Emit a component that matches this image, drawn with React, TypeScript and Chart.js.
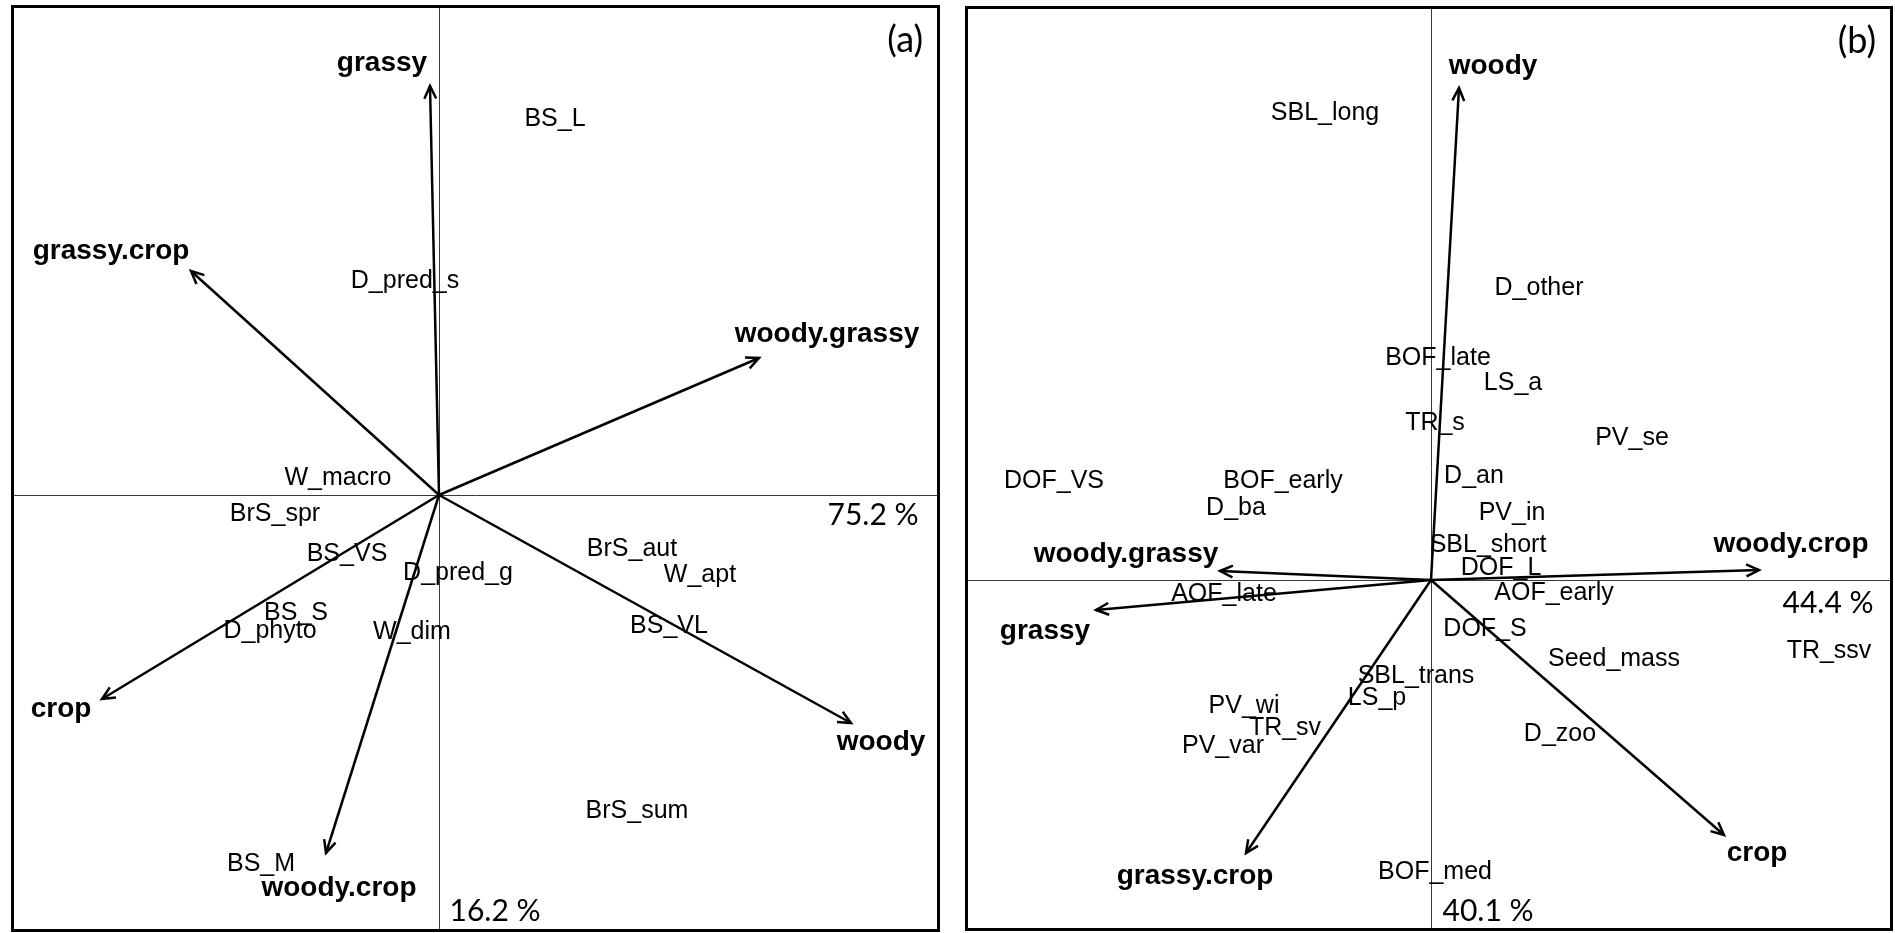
import React, { useEffect, useRef } from "react";
import { Chart, registerables } from "chart.js";
Chart.register(...registerables);

// ---------- Panel (a) ----------
const envNamesA = ["grassy", "grassy.crop", "woody.grassy", "woody", "crop", "woody.crop"];
const envXA = [-0.0225, -0.62, 0.8, 1.03, -0.8425, -0.2825];
const envYA = [1.0225, 0.56, 0.3425, -0.57, -0.51, -0.895];
const envLabelXA = [-0.1425, -0.82, 0.97, 1.105, -0.945, -0.25];
const envLabelYA = [1.06, 0.59, 0.3825, -0.6375, -0.555, -1.0025];

const traitNamesA = ["BS_L", "D_pred_s", "W_macro", "BrS_spr", "BS_VS", "D_pred_g", "BrS_aut", "W_apt", "BS_S", "D_phyto", "W_dim", "BS_VL", "BrS_sum", "BS_M"];
const traitXA = [0.29, -0.085, -0.2525, -0.41, -0.23, 0.0475, 0.4825, 0.6525, -0.3575, -0.4225, -0.0675, 0.575, 0.495, -0.445];
const traitYA = [0.9225, 0.5175, 0.025, -0.065, -0.165, -0.2125, -0.1525, -0.2175, -0.3125, -0.3575, -0.36, -0.345, -0.8075, -0.94];

const pctNamesA = ["75.2 %", "16.2 %"];
const pctXA = [1.085, 0.14];
const pctYA = [-0.075, -1.065];

// ---------- Panel (b) ----------
const envNamesB = ["woody", "woody.crop", "woody.grassy", "grassy", "grassy.crop", "crop"];
const envXB = [0.07, 0.82, -0.5275, -0.8375, -0.4625, 0.7325];
const envYB = [1.23, 0.025, 0.0225, -0.075, -0.6825, -0.6375];
const envLabelXB = [0.155, 0.9, -0.7625, -0.965, -0.59, 0.815];
const envLabelYB = [1.265, 0.07, 0.045, -0.1475, -0.76, -0.7025];

const traitNamesB = ["SBL_long", "D_other", "BOF_late", "LS_a", "TR_s", "PV_se", "DOF_VS", "BOF_early", "D_ba", "D_an", "PV_in", "SBL_short", "DOF_L", "AOF_late", "AOF_early", "DOF_S", "TR_ssv", "Seed_mass", "SBL_trans", "LS_p", "PV_wi", "TR_sv", "PV_var", "D_zoo", "BOF_med"];
const traitXB = [-0.265, 0.27, 0.0175, 0.205, 0.01, 0.5025, -0.9425, -0.37, -0.4875, 0.1075, 0.2025, 0.1425, 0.175, -0.5175, 0.3075, 0.135, 0.995, 0.4575, -0.0375, -0.135, -0.4675, -0.365, -0.52, 0.3225, 0.01];
const traitYB = [1.15, 0.7125, 0.5375, 0.475, 0.375, 0.3375, 0.23, 0.23, 0.1625, 0.2425, 0.15, 0.07, 0.0125, -0.0525, -0.05, -0.14, -0.195, -0.215, -0.2575, -0.3125, -0.3325, -0.3875, -0.4325, -0.4025, -0.7475];

const pctNamesB = ["44.4 %", "40.1 %"];
const pctXB = [0.9925, 0.1425];
const pctYB = [-0.0825, -0.8525];

const FONT_REG = '25px "Liberation Sans", Arial, sans-serif';
const FONT_BOLD = 'bold 28px "Liberation Sans", Arial, sans-serif';
const FONT_PCT = '30px Lato, "Open Sans", sans-serif';
const FONT_TAG = '36px Lato, "Open Sans", sans-serif';

type PanelCfg = {
  tag: string;
  left: number; top: number; width: number; height: number;
  xMin: number; xMax: number; yMin: number; yMax: number;
  envNames: string[]; envX: number[]; envY: number[]; envLabelX: number[]; envLabelY: number[];
  traitNames: string[]; traitX: number[]; traitY: number[];
  pctNames: string[]; pctX: number[]; pctY: number[];
};

const panelA: PanelCfg = {
  tag: "(a)", left: 11, top: 5, width: 929, height: 927,
  xMin: -1.07, xMax: 1.2525, yMin: -1.0925, yMax: 1.225,
  envNames: envNamesA, envX: envXA, envY: envYA, envLabelX: envLabelXA, envLabelY: envLabelYA,
  traitNames: traitNamesA, traitX: traitXA, traitY: traitYA,
  pctNames: pctNamesA, pctX: pctXA, pctY: pctYA,
};

const panelB: PanelCfg = {
  tag: "(b)", left: 965, top: 6, width: 928, height: 925,
  xMin: -1.165, xMax: 1.155, yMin: -0.8775, yMax: 1.435,
  envNames: envNamesB, envX: envXB, envY: envYB, envLabelX: envLabelXB, envLabelY: envLabelYB,
  traitNames: traitNamesB, traitX: traitXB, traitY: traitYB,
  pctNames: pctNamesB, pctX: pctXB, pctY: pctYB,
};

const ordiPlugin = {
  id: "ordi",
  beforeDatasetsDraw(chart: any) {
    const { ctx, chartArea: a, scales } = chart;
    const x0 = Math.round(scales.x.getPixelForValue(0)) + 0.5;
    const y0 = Math.round(scales.y.getPixelForValue(0)) + 0.5;
    ctx.save();
    ctx.strokeStyle = "#3a3a3a";
    ctx.lineWidth = 1;
    ctx.beginPath();
    ctx.moveTo(a.left, y0); ctx.lineTo(a.right, y0);
    ctx.moveTo(x0, a.top); ctx.lineTo(x0, a.bottom);
    ctx.stroke();
    ctx.restore();
  },
  afterDatasetsDraw(chart: any, _args: any, opts: any) {
    const { ctx, chartArea: a } = chart;
    ctx.save();
    chart.data.datasets.forEach((ds: any, i: number) => {
      const meta = chart.getDatasetMeta(i);
      if (ds.kind === "arrow") {
        const p0 = meta.data[0], p1 = meta.data[1];
        const ang = Math.atan2(p1.y - p0.y, p1.x - p0.x);
        const L = 14, h = (25 * Math.PI) / 180;
        ctx.strokeStyle = "#000";
        ctx.lineWidth = 2.5;
        ctx.lineJoin = "miter";
        ctx.beginPath();
        ctx.moveTo(p1.x - L * Math.cos(ang - h), p1.y - L * Math.sin(ang - h));
        ctx.lineTo(p1.x, p1.y);
        ctx.lineTo(p1.x - L * Math.cos(ang + h), p1.y - L * Math.sin(ang + h));
        ctx.stroke();
      } else if (ds.kind === "text") {
        ctx.fillStyle = "#000";
        ctx.font = ds.font;
        ctx.textAlign = "center";
        ctx.textBaseline = "alphabetic";
        meta.data.forEach((pt: any, j: number) => {
          ctx.fillText(ds.data[j].t, pt.x, pt.y);
        });
      }
    });
    // frame
    ctx.strokeStyle = "#000";
    ctx.lineWidth = 3;
    ctx.strokeRect(a.left + 1.5, a.top + 1.5, a.right - a.left - 3, a.bottom - a.top - 3);
    // panel tag
    ctx.fillStyle = "#000";
    ctx.font = FONT_TAG;
    ctx.textAlign = "right";
    ctx.textBaseline = "alphabetic";
    ctx.fillText(opts.tag, a.right - 17, a.top + 47);
    ctx.restore();
  },
};

function Panel({ cfg }: { cfg: PanelCfg }) {
  const ref = useRef<HTMLCanvasElement | null>(null);
  useEffect(() => {
    if (!ref.current) return;
    const arrowSets = cfg.envNames.map((n, i) => ({
      type: "line" as const,
      kind: "arrow",
      label: n,
      data: [{ x: 0, y: 0 }, { x: cfg.envX[i], y: cfg.envY[i] }],
      borderColor: "#000",
      borderWidth: 2.5,
      pointRadius: 0,
      showLine: true,
      fill: false,
      tension: 0,
      clip: false as any,
    }));
    const textSet = (names: string[], xs: number[], ys: number[], font: string, label: string) => ({
      type: "scatter" as const,
      kind: "text",
      label,
      font,
      data: names.map((t, i) => ({ x: xs[i], y: ys[i], t })),
      pointRadius: 0,
      showLine: false,
      clip: false as any,
    });
    const chart = new Chart(ref.current, {
      type: "scatter",
      data: {
        datasets: [
          ...arrowSets,
          textSet(cfg.envNames, cfg.envLabelX, cfg.envLabelY, FONT_BOLD, "env"),
          textSet(cfg.traitNames, cfg.traitX, cfg.traitY, FONT_REG, "traits"),
          textSet(cfg.pctNames, cfg.pctX, cfg.pctY, FONT_PCT, "pct"),
        ] as any,
      },
      options: {
        animation: false,
        responsive: false,
        devicePixelRatio: 1,
        events: [],
        layout: { padding: 0 },
        scales: {
          x: { type: "linear", min: cfg.xMin, max: cfg.xMax, display: false },
          y: { type: "linear", min: cfg.yMin, max: cfg.yMax, display: false },
        },
        plugins: {
          legend: { display: false },
          tooltip: { enabled: false },
          ordi: { tag: cfg.tag },
        } as any,
      },
      plugins: [ordiPlugin],
    });
    return () => chart.destroy();
  }, [cfg]);
  return (
    <canvas
      ref={ref}
      width={cfg.width}
      height={cfg.height}
      style={{ position: "absolute", left: cfg.left, top: cfg.top, width: cfg.width, height: cfg.height, display: "block" }}
    />
  );
}

export default function App() {
  return (
    <div style={{ position: "fixed", left: 0, top: 0, width: 1895, height: 933, background: "#fff", overflow: "hidden" }}>
      <Panel cfg={panelA} />
      <Panel cfg={panelB} />
    </div>
  );
}
